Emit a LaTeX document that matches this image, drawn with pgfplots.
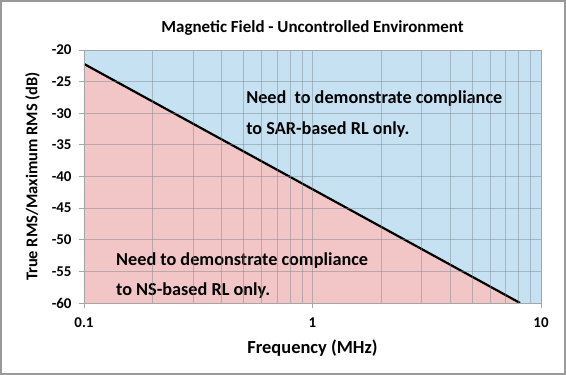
\documentclass[border=0pt]{standalone}
\usepackage{pgfplots}
\pgfplotsset{compat=1.18}
\usepackage{fontspec}
\setmainfont{Carlito}
\definecolor{bluefill}{RGB}{198,225,241}
\definecolor{pinkfill}{RGB}{242,198,198}
\definecolor{gridc}{RGB}{120,130,140}
\begin{document}
\begin{tikzpicture}[x=1bp,y=1bp]
\path[use as bounding box] (-84bp,-72bp) rectangle (482bp,303bp);
\draw[gray!80, line width=1.5bp] (-83bp,-71bp) rectangle (481bp,302bp);
\begin{axis}[
  at={(0,0)}, anchor=south west,
  scale only axis, width=457bp, height=253bp,
  xmode=log, xmin=0.1, xmax=10, ymin=-60, ymax=-20,
  log basis x=10,
  xtick={0.1,1,10}, xticklabels={0.1,1,10},
  ytick={-60,-55,...,-20},
  minor xtick={0.2,0.3,0.4,0.5,0.6,0.7,0.8,0.9,2,3,4,5,6,7,8,9},
  grid=both,
  major grid style={draw=gridc, opacity=0.45, line width=0.8bp},
  minor grid style={draw=gridc, opacity=0.45, line width=0.8bp},
  axis on top,
  axis line style={draw=gray!70, line width=0.8bp},
  tick style={draw=gray!70, line width=0.8bp},
  tick align=outside, major tick length=5bp, minor tick length=0pt,
  xtick pos=bottom, ytick pos=left,
  ticklabel style={font=\fontsize{15}{17}\selectfont\bfseries},
  xticklabel style={yshift=-6bp},
  yticklabel style={xshift=-4bp},
  /pgf/number format/assume math mode=true,
  xlabel={\fontsize{18.5}{21}\selectfont\bfseries Frequency (MHz)},
  ylabel={\fontsize{16.5}{19}\selectfont\bfseries True RMS/Maximum RMS (dB)},
  xlabel style={yshift=-6bp},
  ylabel style={yshift=5bp},
  title={\fontsize{17}{20}\selectfont\bfseries Magnetic Field - Uncontrolled Environment},
  title style={yshift=5bp},
  clip=true,
]
\addplot[fill=bluefill, draw=none] coordinates {(0.1,-22.2) (0.1,-20) (10,-20) (10,-60) (8.1,-60)} -- cycle;
\addplot[fill=pinkfill, draw=none] coordinates {(0.1,-60) (0.1,-22.2) (8.1,-60)} -- cycle;
\addplot[black, line width=2.2bp] coordinates {(0.1,-22.2) (8.1,-60)};
\node[anchor=west, align=left, font=\fontsize{18.3}{31}\selectfont\bfseries, inner sep=0pt] at (axis cs:0.512,-30.1) {Need\ \ to demonstrate compliance\\to SAR-based RL only.};
\node[anchor=west, align=left, font=\fontsize{18.3}{30}\selectfont\bfseries, inner sep=0pt] at (axis cs:0.138,-55.6) {Need to demonstrate compliance\\to NS-based RL only.};
\end{axis}
\end{tikzpicture}
\end{document}
